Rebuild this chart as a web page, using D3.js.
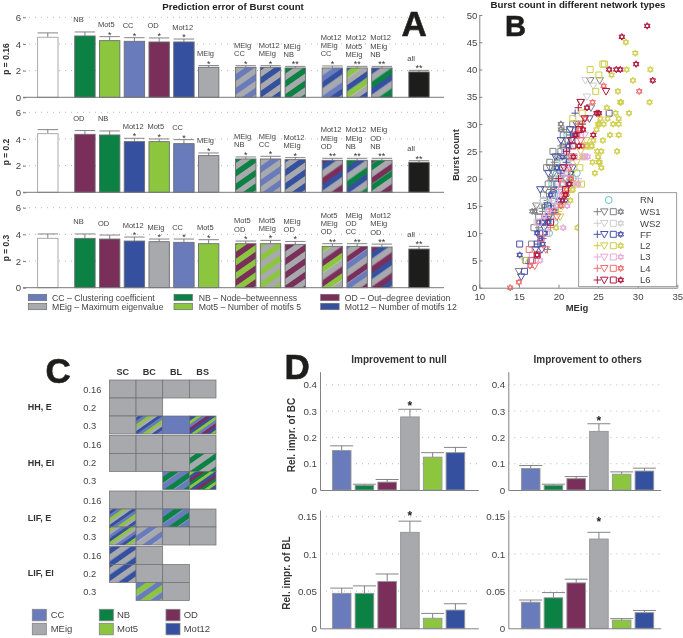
<!DOCTYPE html>
<html><head><meta charset="utf-8">
<script src="https://cdn.jsdelivr.net/npm/d3@7/dist/d3.min.js"></script>
<style>html,body{margin:0;background:#fff}svg{display:block;font-family:"Liberation Sans",Arial,sans-serif;filter:blur(0.3px)}</style>
</head><body><svg id="c" width="683" height="638"></svg>
<script>
// ---------- data ----------
const featureNames=["CC","NB","OD","MEig","Mot5","Mot12"];
const featureColors=["#6a7bbb","#0b8144","#7a2f5a","#a7a9ac","#8cc63f","#34509f"];
const featureLong=["CC – Clustering coefficient","NB – Node–betweenness","OD – Out–degree deviation","MEig – Maximum eigenvalue","Mot5 – Number of motifs 5","Mot12 – Number of motifs 12"];
const slots=[0,1.5,2.5,3.5,4.5,5.5,6.5,8,9,10,11.5,12.5,13.5,15];
const p16Labels=["","NB","Mot5","CC","OD","Mot12","MEig","MEig|CC","Mot12|MEig","MEig|NB","Mot12|MEig|CC","Mot12|Mot5|MEig","Mot12|MEig|NB","all"];
const p16Values=[4.5,4.6,4.25,4.2,4.15,4.15,2.25,2.25,2.25,2.2,2.2,2.2,2.2,1.9];
const p16Errors=[.33,.3,.3,.27,.3,.22,.13,.12,.12,.12,.15,.12,.12,.12];
const p16Stars=["","","*","*","*","*","*","*","*","**","*","**","**","**"];
const p20Labels=["","OD","NB","Mot12","Mot5","CC","MEig","MEig|NB","MEig|CC","Mot12|MEig","Mot12|MEig|OD","Mot12|MEig|NB","MEig|OD|NB","all"];
const p20Values=[4.4,4.35,4.3,3.8,3.8,3.65,2.75,2.5,2.5,2.45,2.4,2.4,2.4,2.25];
const p20Errors=[.3,.28,.3,.25,.2,.3,.2,.15,.2,.15,.15,.15,.15,.12];
const p20Stars=["","","","*","*","*","*","*","*","*","**","**","**","**"];
const p30Labels=["","NB","OD","Mot12","MEig","CC","Mot5","Mot5|OD","Mot5|MEig","MEig|OD","Mot5|MEig|OD","MEig|OD|CC","Mot12|MEig|OD","all"];
const p30Values=[3.7,3.7,3.65,3.5,3.45,3.4,3.3,3.3,3.3,3.25,3.1,3.1,3.05,2.9];
const p30Errors=[.33,.33,.3,.3,.2,.25,.3,.2,.25,.22,.2,.2,.22,.2];
const p30Stars=["","","","*","*","*","*","*","*","*","**","**","**","**"];
const pTicks=[0,2,4,6];
// scatter points [MEig, Burst count]
const rnCircle=[[20,24],[19.6,22],[20.3,21],[21.1,20],[19.2,19],[20.1,18],[19.5,17],[19.2,16],[18.7,14],[19,13],[19.5,12],[18.8,10],[20.5,23],[21.3,26],[21.8,20],[22.3,21],[20.2,20],[18.3,15],[19.8,21],[20.8,25],[21.1,28],[18.1,16],[19,15],[20.6,19]];
const ws1Plus=[[18.6,7],[17.5,11],[18,14],[18.6,16],[19.2,20],[19.5,23],[20.3,26],[20.7,29],[19,18]];
const ws1Tri=[[15,3],[17.2,15],[18.3,18],[18.9,22],[19.8,24],[22.8,34],[24.1,33],[24,38],[25.2,38],[21,27],[19.4,21]];
const ws1Sq=[[16.6,8],[16.9,11],[17.6,14],[18.1,17],[18.7,19],[18.5,22],[18.9,23],[19.3,25],[20.2,24],[20.6,28],[21.2,27],[21.4,29],[19.7,22],[20.3,25],[21.8,30],[17.5,13]];
const ws1Hex=[[20.3,30],[20.3,29],[17,14],[17.5,12],[18.2,15],[19,20],[19.3,18],[20.5,26],[21.2,24],[16.7,14]];
const ws2Plus=[[18.5,13],[19,16],[19.6,19],[20.2,22],[21,26],[21.5,24]];
const ws2Tri=[[17.4,15],[18.5,11],[19.3,15],[20,18],[20.7,21],[21.2,25],[23.4,38],[24.4,37],[23.6,35],[22.9,34],[22.2,30],[17.8,9],[19.2,12]];
const ws2Sq=[[17.3,12],[18.1,16],[18.7,14],[19.4,17],[20,20],[20.6,23],[21.1,22],[21.6,27],[22.3,28],[20.2,16]];
const ws2Hex=[[18.9,13],[19.6,14],[20.1,15],[20.5,19],[21,21],[21.3,23],[22,26]];
const ffPlus=[[22.1,32],[18,9],[18.5,13],[19.1,15],[19.7,18],[20.3,21],[21,23],[21.5,28],[17.4,8]];
const ffTri=[[15.3,2],[17.1,7],[17.9,7],[17.7,18],[18.7,21],[19.6,24],[20.3,27],[21.5,29],[22.3,30],[23.9,31],[18.2,11],[18.8,13],[20.8,20],[21.8,22]];
const ffSq=[[15.1,8],[15.7,3],[15.9,5],[16.5,5],[26.4,32],[17.3,8],[17.7,10],[18,12],[18.6,15],[19.2,17],[19.8,19],[20.5,22],[21,25],[21.7,27],[22.5,29]];
const ffHex=[[15.1,6],[17.3,10],[17.7,9],[18,8],[18.3,10],[18,12],[18.7,12],[19.5,14],[20.1,16],[20.9,16],[21.3,19],[21.6,21],[21.5,20],[19,17],[19.8,22],[20.5,24],[21.2,26],[22,28]];
const l2Plus=[[21.5,20],[22,19],[20,14],[21,17]];
const l2Tri=[[22.3,23],[21.7,21],[15.7,5],[21.2,18],[20.5,15],[22.8,25],[23.5,27],[20.2,13]];
const l2Sq=[[24,40],[25.6,41],[25.8,41],[25.1,39],[24.7,36],[21.8,31],[23,32],[23.5,26],[22.9,19],[22.2,19],[21.6,18],[22.8,30],[24,26],[22.7,22]];
const l2Hex=[[28.5,45],[29.7,43],[28.6,40],[31.6,40],[26.7,39],[29.4,38],[27.5,36],[31.5,34],[27.9,34],[27.8,34],[26.1,33],[28.9,32],[27.2,32],[26.2,31],[27.6,31],[25.3,31],[25.7,30],[25.2,30],[26.9,30],[27.6,30],[24.8,29],[25.0,30],[26.5,28],[27.6,28],[25.6,27],[24.4,27],[24.2,26],[23.6,26],[27.4,25],[24.9,25],[25.4,25],[25,24],[24.3,23],[25.1,23],[25.2,23],[25.4,22],[24.6,21],[22.4,11],[19.7,11],[23,24],[21.8,18],[21.5,16]];
const l3Plus=[[21,22],[22.5,20],[19,14],[20,18]];
const l3Tri=[[20.8,20],[21.8,24],[18.8,14],[23.3,28]];
const l3Sq=[[18.5,10],[17.5,12],[19.5,16],[21.1,21],[22,24],[23.3,24],[22.8,28],[20.8,25],[16.7,6]];
const l3Hex=[[20.6,11],[21.1,15],[21.9,19],[22.5,19],[23.3,24],[23.7,24],[19.8,15],[20.4,17],[18.2,13],[17.7,5]];
const l4Plus=[[20.2,20],[21,17],[22.5,30],[19,11]];
const l4Tri=[[17,4],[18.4,7],[19.8,13],[20.7,17],[21.4,22],[22.8,27]];
const l4Sq=[[16.3,7],[16.7,5],[17.8,9],[19.2,14],[20.5,19],[21.6,24],[22.3,28]];
const l4Hex=[[13.9,0],[15,1],[16.4,4],[25.7,37],[24.3,34],[21,18],[21.6,20],[22.7,29],[23.4,31],[24.9,32],[23,26],[30.2,36],[20.3,15]];
const l6Plus=[[21,25],[22.5,33],[20,20],[23,30]];
const l6Tri=[[26,36],[22.8,34],[23.3,31],[21.6,27],[20.7,22]];
const l6Sq=[[17.3,6],[19,12],[20.9,18],[21.8,26],[22.6,29]];
const l6Hex=[[31.2,48],[28,46],[29.8,41],[26.4,40],[27.3,40],[27.8,40],[31.9,38],[23.6,33],[24.8,32],[25.1,32],[22.2,28],[24.4,28],[23.1,29],[22.6,26],[17.3,6],[20.9,17],[21.4,19],[21.9,24],[20.5,16]];
const netNames=["RN","WS1","WS2","FF","L2","L3","L4","L6"];
const netColors=["#5fc4c9","#808285","#cfcfd2","#4a52a8","#cfce4a","#e6a9d8","#f06e6e","#b0173c"];
const netSeries=[[rnCircle],[ws1Plus,ws1Tri,ws1Sq,ws1Hex],[ws2Plus,ws2Tri,ws2Sq,ws2Hex],[ffPlus,ffTri,ffSq,ffHex],[l2Plus,l2Tri,l2Sq,l2Hex],[l3Plus,l3Tri,l3Sq,l3Hex],[l4Plus,l4Tri,l4Sq,l4Hex],[l6Plus,l6Tri,l6Sq,l6Hex]];
const xTicksB=[10,15,20,25,30,35], yTicksB=[0,5,10,15,20,25,30,35,40,45,50];
// panel C
const cColumns=["SC","BC","BL","BS"];
const cGroups=["HH, E","HH, EI","LIF, E","LIF, EI"];
const cRows=["0.16","0.2","0.3"];
const hhE=[["MEig","MEig","MEig","MEig"],["MEig","MEig","",""],["MEig","Mot5|MEig|Mot12|CC","CC","OD|Mot12|Mot5|CC"]];
const hhEI=[["MEig","MEig","MEig","MEig"],["MEig","MEig","MEig","NB|MEig"],["","","NB|CC","NB|Mot5|Mot12|OD"]];
const lifE=[["MEig","MEig","MEig",""],["Mot12|CC|Mot5|MEig","MEig","NB|CC","MEig"],["Mot12|Mot5|MEig|CC","CC|MEig","MEig","MEig"]];
const lifEI=[["MEig|Mot12","MEig","",""],["MEig|Mot12","MEig","MEig",""],["","Mot5|CC","MEig",""]];
// panel D
const nullBC=[.15,.018,.03,.278,.125,.142], nullBCTop=[.168,.022,.04,.307,.142,.162];
const nullBL=[.047,.047,.063,.129,.0135,.0245], nullBLTop=[.054,.057,.073,.144,.02,.033];
const othBC=[.082,.018,.043,.223,.06,.072], othBCTop=[.093,.022,.051,.252,.069,.083];
const othBL=[.035,.041,.061,.12,.011,.021], othBLTop=[.038,.048,.066,.129,.013,.024];
const bcTicks=[0,.1,.2,.3,.4], blTicks=[0,.05,.1,.15];

// ---------- helpers ----------
const svg=d3.select("#c");
const defs=svg.append("defs");
const colorOf=Object.fromEntries(featureNames.map((n,i)=>[n,featureColors[i]]));
const TXT="#444", AX="#808285";
const patterns={};
function fillFor(names,t){
  if(names.length===1) return colorOf[names[0]];
  const id="p"+names.join("_")+"_"+String(t).replace(".","d");
  if(!patterns[id]){
    patterns[id]=1;
    const n=names.length;
    const p=defs.append("pattern").attr("id",id).attr("patternUnits","userSpaceOnUse")
      .attr("width",20).attr("height",t*n).attr("patternTransform","rotate(-35)");
    names.forEach((m,i)=>p.append("rect").attr("x",0).attr("y",i*t).attr("width",20).attr("height",t).attr("fill",colorOf[m]));
  }
  return "url(#"+id+")";
}
function text(s,x,y,o={}){
  const e=svg.append("text").attr("x",x).attr("y",y).text(s)
   .attr("font-size",o.size||9).attr("fill",o.fill||TXT).attr("font-weight",o.bold?"bold":"normal")
   .attr("text-anchor",o.anchor||"start");
  if(o.rot) e.attr("transform",`rotate(-90 ${x} ${y})`);
  return e;
}
function styleAxis(g,size,keepDomain){
  g.selectAll("text").attr("font-size",size).attr("fill",TXT).attr("font-family",'"Liberation Sans",Arial,sans-serif');
  g.selectAll("line").attr("stroke",AX);
  if(keepDomain) g.select(".domain").attr("stroke",AX); else g.select(".domain").remove();
}
const big=(s,x,y,size)=>text(s,x,y,{size:size||35,bold:true,fill:"#1d1d1b"}).attr("stroke","#1d1d1b").attr("stroke-width",.6);

// ---------- panel A ----------
const xA=d3.scaleLinear().domain([0,15]).range([47.8,419]);
const barWA=20.4;
function panelA(y0,labels,values,errors,stars,title,titleY){
  const y=d3.scaleLinear().domain([0,6]).range([y0,y0-80]);
  svg.append("g").selectAll("line").data(pTicks.slice(1)).join("line")
    .attr("x1",23).attr("x2",444).attr("y1",d=>y(d)).attr("y2",d=>y(d))
    .attr("stroke","#a8a8a8").attr("stroke-width",.8).attr("stroke-dasharray","1,5");
  const ax=svg.append("g").attr("transform","translate(23,0)")
    .call(d3.axisLeft(y).tickValues(pTicks).tickFormat(d3.format("d")).tickSizeInner(-3).tickSizeOuter(0).tickPadding(2));
  styleAxis(ax,9.6,false);
  labels.forEach((lab,i)=>{
    const names=lab===""||lab==="all"?[]:lab.split("|");
    const fill=lab===""?"#fff":lab==="all"?"#1d1d1b":fillFor(names,5.6);
    const cx=xA(slots[i]), top=y(values[i]), cap=y(values[i]+errors[i]);
    svg.append("line").attr("x1",cx).attr("x2",cx).attr("y1",top).attr("y2",cap).attr("stroke",AX);
    svg.append("line").attr("x1",cx-barWA/2).attr("x2",cx+barWA/2).attr("y1",cap).attr("y2",cap).attr("stroke","#777").attr("stroke-width",.9);
    svg.append("rect").attr("x",cx-barWA/2).attr("y",top).attr("width",barWA).attr("height",y0-top)
      .attr("fill",fill).attr("stroke",lab===""?"#aaa":"#6d6e71").attr("stroke-width",lab===""?1:.9);
    if(stars[i]) text(stars[i],cx,cap+1,{size:9,anchor:"middle",fill:"#333"});
    const lines=lab.split("|");
    lines.forEach((l,k)=>text(l,cx-barWA/2-1.5,cap-9.5-(lines.length-1-k)*8.3,{size:7.5}));
  });
  svg.append("line").attr("x1",23).attr("x2",444).attr("y1",y0).attr("y2",y0).attr("stroke","#77787b").attr("stroke-width",1);
  text(title,9,titleY,{size:8.5,bold:true,anchor:"middle",rot:true,fill:"#333"});
}
panelA(97.3,p16Labels,p16Values,p16Errors,p16Stars,"p = 0.16",59);
panelA(192.3,p20Labels,p20Values,p20Errors,p20Stars,"p = 0.2",152);
panelA(287.7,p30Labels,p30Values,p30Errors,p30Stars,"p = 0.3",248);
text("Prediction error of Burst count",233,9.5,{size:9.7,bold:true,anchor:"middle",fill:"#222"});
big("A",401.5,36);
const legX=[[28.3,52],[174,198.7],[320.7,344.7]];
[[0,1,2],[3,4,5]].forEach((row,r)=>row.forEach((f,c)=>{
  const yy=[294.3,303.3][r];
  svg.append("rect").attr("x",legX[c][0]).attr("y",yy).attr("width",18.4).attr("height",6.4)
    .attr("fill",featureColors[f]).attr("stroke","#6d6e71").attr("stroke-width",.7);
  text(featureLong[f],legX[c][1],yy+6.5,{size:8.7});
}));

// ---------- panel B ----------
const xB=d3.scaleLinear().domain([10,35]).range([479.3,677.3]);
const yB=d3.scaleLinear().domain([0,50]).range([287.7,15]);
const symPlus={draw(c,s){const r=Math.sqrt(s)/2;c.moveTo(-r,0);c.lineTo(r,0);c.moveTo(0,-r);c.lineTo(0,r);}};
const symTri={draw(c,s){const r=Math.sqrt(s)/2;c.moveTo(-r,-r*.75);c.lineTo(r,-r*.75);c.lineTo(0,r);c.closePath();}};
const symHex={draw(c,s){const r=Math.sqrt(s)/2;for(const o of [-Math.PI/2,Math.PI/2]){for(let i=0;i<3;i++){const a=o+i*2*Math.PI/3;const X=r*Math.cos(a),Y=r*Math.sin(a);i?c.lineTo(X,Y):c.moveTo(X,Y);}c.closePath();}}};
const symSq={draw(c,s){const r=Math.sqrt(s)/2;c.rect(-r,-r,2*r,2*r);}};
const symCirc={draw(c,s){c.arc(0,0,Math.sqrt(s)/2,0,7);}};
const shapes=[[symPlus,7.5],[symTri,7.5],[symSq,6],[symHex,6.6]];
const shapeFor=(ti,si)=>ti===0?[symCirc,7]:shapes[si];
const pathOf=([t,w])=>d3.symbol().type(t).size(w*w)();
const scat=svg.append("g").attr("fill","none");
netSeries.forEach((arrs,ti)=>arrs.forEach((pts,si)=>{
  scat.append("g").selectAll("path").data(pts).join("path")
    .attr("d",pathOf(shapeFor(ti,si)))
    .attr("transform",d=>`translate(${xB(d[0])},${yB(d[1])})`)
    .attr("stroke",netColors[ti]).attr("stroke-width",1);
}));
const bx=svg.append("g").attr("transform","translate(0,287.7)")
  .call(d3.axisBottom(xB).tickValues(xTicksB).tickSizeInner(-3).tickSizeOuter(0).tickPadding(5));
styleAxis(bx,9.6,true);
const by=svg.append("g").attr("transform","translate(479.3,0)")
  .call(d3.axisLeft(yB).tickValues(yTicksB).tickSizeInner(-3).tickSizeOuter(0).tickPadding(2));
styleAxis(by,9.6,true);
text("Burst count in different network types",578,8,{size:9.7,bold:true,anchor:"middle",fill:"#222"});
text("MEig",577,311,{size:9.5,bold:true,anchor:"middle",fill:"#333"});
text("Burst count",459,155,{size:9.2,bold:true,anchor:"middle",rot:true,fill:"#333"});
big("B",505,36,29);
svg.append("rect").attr("x",578.7).attr("y",192.7).attr("width",98).attr("height",94).attr("fill","#fff").attr("stroke","#808285").attr("stroke-width",.8);
const legRowsB=[200,211.7,223.3,234.3,245.7,257,268.3,280];
const legXB=[597.3,604.3,613.3,620.7];
netNames.forEach((n,i)=>{
  if(i===0) svg.append("path").attr("d",pathOf([symCirc,7])).attr("transform",`translate(608.7,${legRowsB[0]})`).attr("fill","none").attr("stroke",netColors[0]);
  else legXB.forEach((lx,s)=>svg.append("path").attr("d",pathOf(shapes[s])).attr("transform",`translate(${lx},${legRowsB[i]})`).attr("fill","none").attr("stroke",netColors[i]));
  text(n,640,legRowsB[i]+3.4,{size:9.5});
});

// ---------- panel C ----------
const xC=d3.scaleBand().domain(cColumns).range([109.4,216]);
const yCg=d3.scaleOrdinal().domain(cGroups).range([380,435.5,491,546.4]);
const rowH=18;
[hhE,hhEI,lifE,lifEI].forEach((grid,g)=>{
  const y0=yCg(cGroups[g]);
  grid.forEach((row,r)=>{
    row.forEach((cell,c)=>{
      if(!cell) return;
      const parts=cell.split("|");
      svg.append("rect").attr("x",xC(cColumns[c])).attr("y",y0+r*rowH).attr("width",xC.bandwidth()).attr("height",rowH)
        .attr("fill",fillFor(parts,parts.length>2?2.8:5.5)).attr("stroke","#6d6e71").attr("stroke-width",.7);
    });
    text(cRows[r],83.3,y0+r*rowH+12.5,{size:9.4});
  });
  text(cGroups[g],27.7,y0+rowH+12,{size:9,bold:true,fill:"#333"});
});
cColumns.forEach(c=>text(c,xC(c)+xC.bandwidth()/2,375,{size:9.1,bold:true,anchor:"middle",fill:"#333"}));
big("C",45.5,383);
const legXC=[[32.3,50.7],[99.3,117],[166,183.7]];
[[0,1,2],[3,4,5]].forEach((row,r)=>row.forEach((f,c)=>{
  const yy=[609.3,623.3][r];
  svg.append("rect").attr("x",legXC[c][0]).attr("y",yy).attr("width",14).attr("height",11.5)
    .attr("fill",featureColors[f]).attr("stroke","#808285").attr("stroke-width",.8);
  text(featureNames[f],legXC[c][1],yy+9,{size:9.5});
}));

// ---------- panel D ----------
function panelD(x0,x1,first,y0,yTop,dom,ticks,vals,tops,starLevel){
  const x=d3.scaleLinear().domain([0,5]).range([first,first+113.7]);
  const y=d3.scaleLinear().domain(dom).range([y0,yTop]);
  svg.append("g").selectAll("line").data(ticks.slice(1)).join("line")
    .attr("x1",x0).attr("x2",x1).attr("y1",d=>y(d)).attr("y2",d=>y(d))
    .attr("stroke","#a8a8a8").attr("stroke-width",.8).attr("stroke-dasharray","1,5");
  vals.forEach((v,i)=>{
    const cx=x(i);
    svg.append("line").attr("x1",cx).attr("x2",cx).attr("y1",y(v)).attr("y2",y(tops[i])).attr("stroke",AX);
    svg.append("line").attr("x1",cx-11.5).attr("x2",cx+11.5).attr("y1",y(tops[i])).attr("y2",y(tops[i])).attr("stroke","#777").attr("stroke-width",.9);
    svg.append("rect").attr("x",cx-9.3).attr("y",y(v)).attr("width",18.6).attr("height",y0-y(v))
      .attr("fill",featureColors[i]).attr("stroke","#939598").attr("stroke-width",.9);
  });
  text("*",x(3),y(starLevel)+5.5,{size:12,bold:true,anchor:"middle",fill:"#222"});
  const ya=svg.append("g").attr("transform",`translate(${x0},0)`)
    .call(d3.axisLeft(y).tickValues(ticks).tickFormat(d=>String(d)).tickSizeInner(0).tickSizeOuter(0).tickPadding(3));
  styleAxis(ya,9.8,true);
  const xa=svg.append("g").attr("transform",`translate(0,${y0})`)
    .call(d3.axisBottom(d3.scaleLinear().domain([0,1]).range([x0,x1])).tickValues([]).tickSizeOuter(0));
  styleAxis(xa,9,true);
}
panelD(320,478.3,341.7,490,371.7,[0,.45],bcTicks,nullBC,nullBCTop,.325);
panelD(508.3,660.7,530.7,490,371.7,[0,.45],bcTicks,othBC,othBCTop,.27);
panelD(320,478.3,341.7,628.3,510,[0,.159],blTicks,nullBL,nullBLTop,.1525);
panelD(508.3,660.7,530.7,628.3,510,[0,.159],blTicks,othBL,othBLTop,.1445);
text("Improvement to null",399,363,{size:10,bold:true,anchor:"middle",fill:"#333"});
text("Improvement to others",587.7,363,{size:10,bold:true,anchor:"middle",fill:"#333"});
text("Rel. impr. of BC",295,435,{size:10,bold:true,anchor:"middle",rot:true,fill:"#333"});
text("Rel. impr. of BL",290,573,{size:10,bold:true,anchor:"middle",rot:true,fill:"#333"});
big("D",284.5,379);
</script></body></html>
